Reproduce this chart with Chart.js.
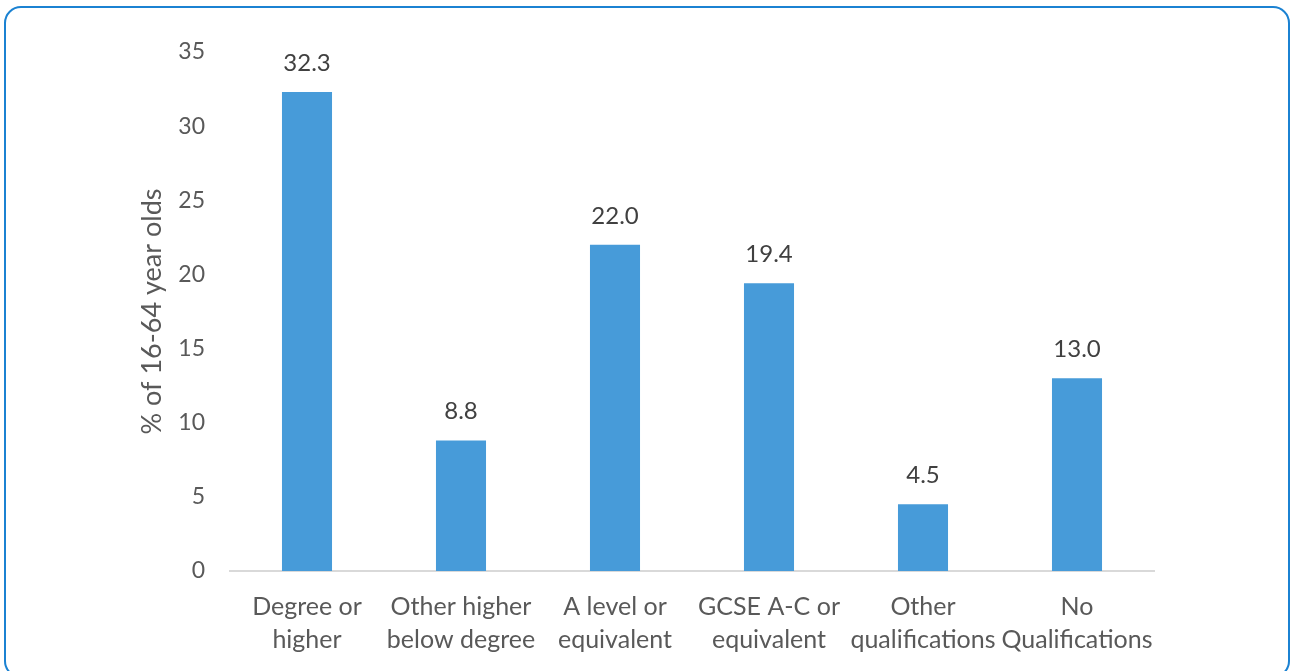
<!DOCTYPE html>
<html>
<head>
<meta charset="utf-8">
<script src="https://cdn.jsdelivr.net/npm/chart.js@4"></script>
<style>
  html, body { margin: 0; padding: 0; background: #fff; }
  #wrap { position: relative; width: 1290px; height: 671px; overflow: hidden; }
  #frame {
    position: absolute; left: 4px; top: 6px; width: 1286px; height: 672px;
    border: 2px solid #1b82d2; border-radius: 17px; box-sizing: border-box;
  }
  canvas { position: absolute; left: 0; top: 0; }
</style>
</head>
<body>
<div id="wrap">
  <div id="frame"></div>
  <canvas id="chart" width="1290" height="671"></canvas>
</div>
<script>
// data
const categories = [
  ["Degree or", "higher"],
  ["Other higher", "below degree"],
  ["A level or", "equivalent"],
  ["GCSE A-C or", "equivalent"],
  ["Other", "qualifications"],
  ["No", "Qualifications"],
];
const shares = [32.3, 8.8, 22.0, 19.4, 4.5, 13.0];
const yMax = 35;
const yStep = 5;
const yTitle = "% of 16-64 year olds";

const FONT = "Lato, 'Open Sans', sans-serif";

const valueLabels = {
  id: "valueLabels",
  afterDatasetsDraw(chart) {
    const ctx = chart.ctx;
    const meta = chart.getDatasetMeta(0);
    ctx.save();
    ctx.font = "24px " + FONT;
    ctx.fillStyle = "#404040";
    ctx.textAlign = "center";
    ctx.textBaseline = "middle";
    meta.data.forEach((bar, i) => {
      ctx.fillText(shares[i].toFixed(1), bar.x, bar.y - 29);
    });
    ctx.restore();
  },
};

new Chart(document.getElementById("chart"), {
  type: "bar",
  data: {
    labels: categories,
    datasets: [
      {
        data: shares,
        backgroundColor: "#479bd9",
        borderWidth: 0,
        barPercentage: 0.325,
        categoryPercentage: 1,
      },
    ],
  },
  options: {
    responsive: false,
    animation: false,
    layout: { padding: { top: 52, right: 136, bottom: 0, left: 0 } },
    plugins: {
      legend: { display: false },
      tooltip: { enabled: false },
    },
    scales: {
      x: {
        grid: { display: false, drawTicks: false },
        border: { display: true, color: "#d9d9d9", width: 2 },
        ticks: {
          color: "#595959",
          font: { family: FONT, size: 25, lineHeight: 1.3 },
          padding: 20,
          maxRotation: 0,
          autoSkip: false,
        },
        afterFit(scale) { scale.height = 100; },
      },
      y: {
        min: 0,
        max: yMax,
        grid: { display: false, drawTicks: false },
        border: { display: false },
        ticks: {
          stepSize: yStep,
          color: "#595959",
          font: { family: FONT, size: 23 },
          padding: 25,
        },
        title: {
          display: true,
          text: yTitle,
          color: "#595959",
          font: { family: FONT, size: 27, lineHeight: 1.2 },
          padding: { top: 136, bottom: 0 },
        },
        afterFit(scale) { scale.width = 230; },
      },
    },
  },
  plugins: [valueLabels],
});
</script>
</body>
</html>
